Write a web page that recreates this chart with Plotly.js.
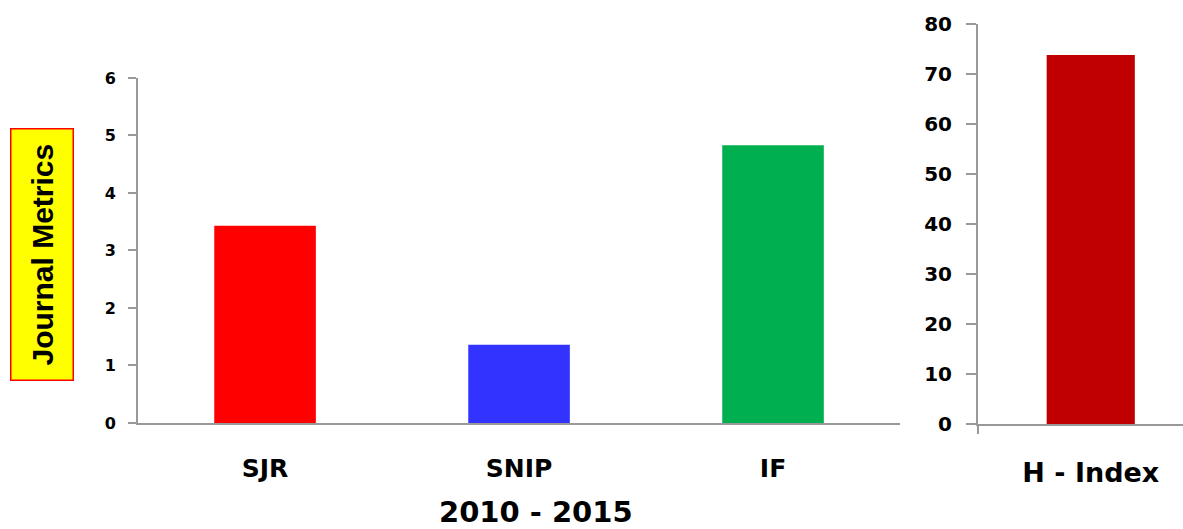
<!DOCTYPE html>
<html><head><meta charset="utf-8">
<script src="https://cdn.plot.ly/plotly-3.0.1.min.js"></script>
<style>html,body{margin:0;padding:0;background:#fff}#chart{width:1183px;height:529px}</style>
</head><body><div id="chart"></div>
<script>
var metricCategories = ["SJR", "SNIP", "IF"];
var metricValues = [3.43, 1.36, 4.83];
var metricColors = ["#FF0000", "#3333FF", "#00B050"];
var hCategories = ["H - Index"];
var hValues = [73.8];
var hColors = ["#C00000"];
var leftTicks = [0, 1, 2, 3, 4, 5, 6];
var rightTicks = [0, 10, 20, 30, 40, 50, 60, 70, 80];

var traces = [
  {type: "bar", x: metricCategories, y: metricValues, marker: {color: metricColors}, width: 0.4, xaxis: "x", yaxis: "y", hoverinfo: "x+y"},
  {type: "bar", x: hCategories, y: hValues, marker: {color: hColors}, width: 0.43, xaxis: "x2", yaxis: "y2", hoverinfo: "x+y"}
];
var layout = {
  width: 1183, height: 529,
  margin: {l: 0, r: 0, t: 0, b: 0},
  paper_bgcolor: "#fff", plot_bgcolor: "rgba(0,0,0,0)",
  showlegend: false,
  xaxis: {domain: [0.1167, 0.7608], anchor: "y", showline: true, linecolor: "#999", linewidth: 2,
    ticks: "", ticklabelstandoff: 22, tickfont: {family: "DejaVu Sans", size: 25, color: "#000", weight: "bold"},
    showgrid: false, zeroline: false, fixedrange: true},
  yaxis: {domain: [0.2004, 0.8526], anchor: "x", range: [0, 6], tickvals: leftTicks, showline: true, linecolor: "#999", linewidth: 2,
    ticks: "outside", ticklen: 8, tickcolor: "#999", tickwidth: 2, ticklabelstandoff: 9,
    tickfont: {family: "DejaVu Sans", size: 16, color: "#000", weight: "bold"},
    showgrid: false, zeroline: false, fixedrange: true},
  xaxis2: {domain: [0.8267, 1], anchor: "y2", range: [-0.55, 0.45], showline: true, linecolor: "#999", linewidth: 2,
    ticks: "", ticklabelstandoff: 24, tickfont: {family: "DejaVu Sans", size: 27, color: "#000", weight: "bold"},
    showgrid: false, zeroline: false, fixedrange: true},
  yaxis2: {domain: [0.1985, 0.9546], anchor: "x2", range: [0, 80], tickvals: rightTicks, showline: true, linecolor: "#999", linewidth: 2,
    ticks: "outside", ticklen: 10, tickcolor: "#999", tickwidth: 2, ticklabelstandoff: 10,
    tickfont: {family: "DejaVu Sans", size: 20, color: "#000", weight: "bold"},
    showgrid: false, zeroline: false, fixedrange: true},
  shapes: [
    {type: "line", xref: "paper", yref: "paper", x0: 978/1183, x1: 978/1183, y0: (529-424)/529, y1: (529-434)/529, line: {color: "#999", width: 2}}
  ],
  annotations: [
    {text: "2010 - 2015", xref: "paper", yref: "paper", x: 536/1183, y: (529-512)/529, xanchor: "center", yanchor: "middle", showarrow: false,
     font: {family: "DejaVu Sans", size: 29, color: "#000", weight: "bold"}},
    {text: "Journal Metrics", xref: "paper", yref: "paper", x: 42/1183, y: (529-255)/529, xanchor: "center", yanchor: "middle", showarrow: false,
     textangle: -90, bgcolor: "#FFFF00", bordercolor: "#FF0000", borderwidth: 1.5, borderpad: 14,
     font: {family: "Liberation Sans", size: 30, color: "#000", weight: "bold"}}
  ]
};
Plotly.newPlot("chart", traces, layout, {displayModeBar: false, staticPlot: true});
</script></body></html>
